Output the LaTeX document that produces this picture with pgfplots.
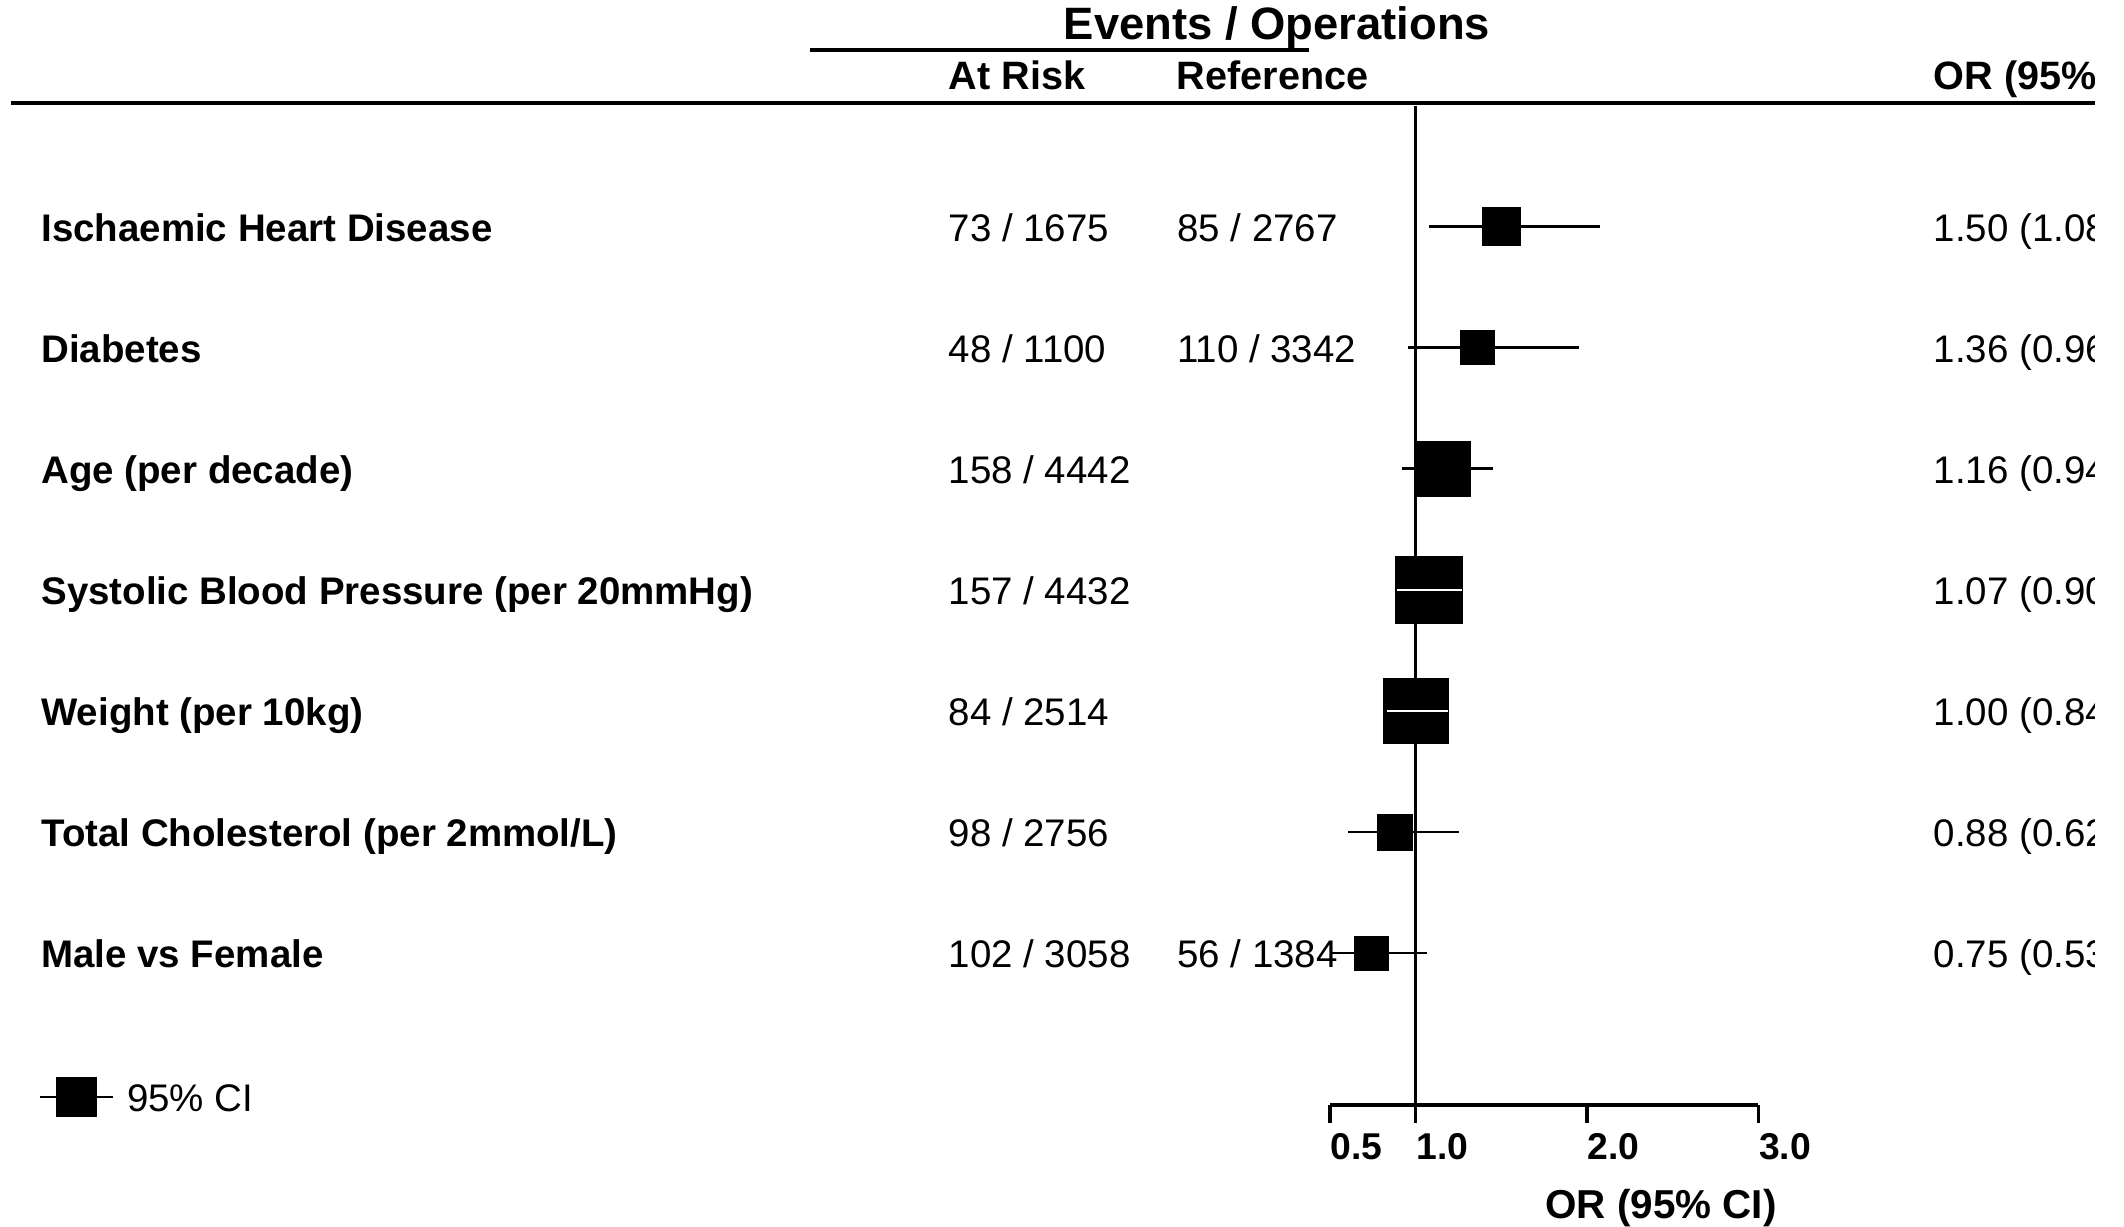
\documentclass[border=0pt]{standalone}
\usepackage{pgfplots}
\pgfplotsset{compat=1.18}
\usepackage{pgfplotstable}
\usepackage{fontspec}
\setmainfont{Liberation Sans}

\newcommand\rowfont{\bfseries\fontsize{10}{12}\selectfont}
\newcommand\numfont{\fontsize{10}{12}\selectfont}
\newcommand\hdrfont{\bfseries\fontsize{10.3}{12}\selectfont}

% y = -(pixel row of the row centre), or = odds ratio, lo/hi = 95% CI, ms = half side of square (pt)
\pgfplotstableread{
y      or     lo     hi     ms
-226.4 1.500  1.078  2.078  4.90
-347.5 1.360  0.955  1.951  4.38
-468.6 1.155  0.918  1.450  7.24
-589.7 1.076  0.886  1.272  8.80
-710.8 1.000  0.827  1.191  8.49
-831.9 0.878  0.606  1.253  4.64
-953.0 0.743  0.513  1.068  4.38
}\ortable

\begin{document}
\begin{tikzpicture}
\begin{axis}[
  x=44.564pt, y=0.26pt,
  xmin=0.5, xmax=3, ymin=-1105, ymax=-108,
  clip=false,
  axis x line*=bottom, axis y line=none,
  x axis line style={-, line width=0.9pt},
  xtick={0.5,1,2,3}, xticklabels={0.5,1.0,2.0,3.0},
  ytick=\empty,
  tick align=outside,
  major tick length=4.7pt,
  tick style={black, line width=0.9pt},
  xticklabel style={anchor=north west, inner sep=0pt, yshift=-2.5pt, font=\bfseries\fontsize{9.7}{11}\selectfont},
  legend style={at={(axis cs:-7.0356,-1097)}, anchor=west, draw=none, fill=none, inner sep=0pt,
    font=\numfont, nodes={inner sep=0pt}},
  legend cell align=left,
]
\coordinate (TL) at (axis cs:-7.2590,0);
\coordinate (w4a) at (axis cs:0.890,-589.7);
\coordinate (w4b) at (axis cs:1.272,-589.7);
\coordinate (w5a) at (axis cs:0.833,-710.8);
\coordinate (w5b) at (axis cs:1.191,-710.8);
\draw[line width=0.86pt] (axis cs:1,-106) -- (axis cs:1,-1105);
\addplot[forget plot, only marks, mark=square*, scatter, point meta=explicit,
  scatter/use mapped color={draw=black, fill=black},
  mark options={line width=0.1pt},
  visualization depends on={\thisrow{ms} \as \ms},
  scatter/@pre marker code/.append style={/tikz/mark size=\ms},
  error bars/.cd, x dir=both, x explicit, error mark=none,
  error bar style={line width=0.6pt, black}]
  table[x=or, y=y, meta=ms,
    x error plus expr=\thisrow{hi}-\thisrow{or},
    x error minus expr=\thisrow{or}-\thisrow{lo}] {\ortable};
\addlegendimage{legend image code/.code={
  \path[draw=none, fill=none] (0pt,0pt) -- (22.6pt,0pt);
  \draw[black, line width=0.6pt] (0pt,1.04pt) -- (18.9pt,1.04pt);
  \fill[black] (4.34pt,-4.06pt) rectangle (14.56pt,6.14pt);}}
\addlegendentry{95\% CI}
\end{axis}

% white CI line showing through the two largest squares
\draw[white, line width=0.6pt] (w4a) -- (w4b);
\draw[white, line width=0.6pt] (w5a) -- (w5b);

\begin{scope}[shift={(TL)}, x=0.26pt, y=-0.26pt]
  % header
  \node[anchor=base, inner sep=0pt, font=\bfseries\fontsize{11.8}{13}\selectfont] at (1277,40) {Events / Operations};
  \draw[line width=0.87pt] (810,50) -- (1309,50);
  \node[anchor=base west, inner sep=0pt, font=\hdrfont] at (948,90) {At Risk};
  \node[anchor=base west, inner sep=0pt, font=\hdrfont] at (1176,90) {Reference};
  % row labels
  \foreach \b/\t in {241.4/{Ischaemic Heart Disease}, 362.5/{Diabetes}, 483.6/{Age (per decade)},
      604.7/{Systolic Blood Pressure (per 20mmHg)}, 725.8/{Weight (per 10kg)},
      846.9/{Total Cholesterol (per 2mmol/L)}, 968.0/{Male vs Female}}
    \node[anchor=base west, inner sep=0pt, font=\rowfont] at (40.6,\b) {\t};
  % events at risk
  \foreach \b/\t in {241.4/{73 / 1675}, 362.5/{48 / 1100}, 483.6/{158 / 4442}, 604.7/{157 / 4432},
      725.8/{84 / 2514}, 846.9/{98 / 2756}, 968.0/{102 / 3058}}
    \node[anchor=base west, inner sep=0pt, font=\numfont] at (948,\b) {\t};
  % events reference
  \foreach \b/\t in {241.4/{85 / 2767}, 362.5/{110 / 3342}, 968.0/{56 / 1384}}
    \node[anchor=base west, inner sep=0pt, font=\numfont] at (1176.5,\b) {\t};
  % x label
  \node[anchor=base, inner sep=0pt, font=\bfseries\fontsize{10.5}{12}\selectfont] at (1661,1219) {OR (95\% CI)};
  % right column, cut at the picture edge as in the original
  \begin{scope}
    \clip (0,0) rectangle (2095,1227);
    \draw[line width=1.04pt] (10.8,103.3) -- (2095,103.3);
    \node[anchor=base west, inner sep=0pt, font=\hdrfont] at (1933,90) {OR (95\% CI)};
    \foreach \b/\t in {241.4/{1.50 (1.08, 2.08)}, 362.5/{1.36 (0.96, 1.95)}, 483.6/{1.16 (0.94, 1.45)},
        604.7/{1.07 (0.90, 1.27)}, 725.8/{1.00 (0.84, 1.19)}, 846.9/{0.88 (0.62, 1.25)},
        968.0/{0.75 (0.53, 1.07)}}
      \node[anchor=base west, inner sep=0pt, font=\numfont] at (1933,\b) {\t};
  \end{scope}
  \pgfresetboundingbox
  \path[use as bounding box] (0,0) rectangle (2124,1227);
\end{scope}
\end{tikzpicture}
\end{document}
